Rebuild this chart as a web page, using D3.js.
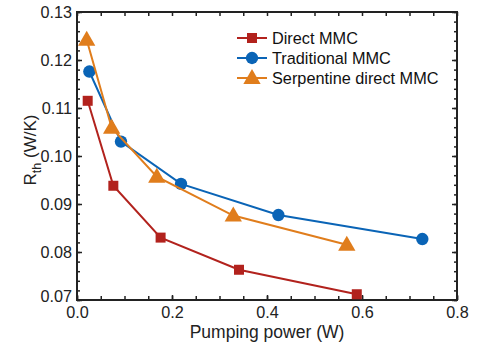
<!DOCTYPE html>
<html><head><meta charset="utf-8">
<script src="https://cdn.jsdelivr.net/npm/d3@7"></script>
<style>body{margin:0;background:#fff}svg{display:block}text{font-family:"Liberation Sans",Arial,sans-serif}</style>
</head><body><svg id="c" width="489" height="350"></svg>
<script>
const seriesNames = ["Direct MMC", "Traditional MMC", "Serpentine direct MMC"];
const directX = [0.0225, 0.0765, 0.176, 0.341, 0.589];
const directY = [0.1115, 0.0938, 0.0830, 0.0763, 0.0712];
const tradX = [0.026, 0.0926, 0.219, 0.424, 0.727];
const tradY = [0.1176, 0.1030, 0.0942, 0.0877, 0.0827];
const serpX = [0.0204, 0.073, 0.168, 0.329, 0.568];
const serpY = [0.1242, 0.1059, 0.0957, 0.0876, 0.0815];
const xTickLabels = [0.0, 0.2, 0.4, 0.6, 0.8];
const yTickLabels = [0.07, 0.08, 0.09, 0.10, 0.11, 0.12, 0.13];
const colors = ["#B2221D", "#0A64B6", "#E07D1C"];
const symbols = [d3.symbolSquare, d3.symbolCircle, d3.symbolTriangle];
const symSizes = [100, 120, 130];

const svg = d3.select("#c");
const L = 77, R = 457, T = 12, B = 300;
const x = d3.scaleLinear().domain([0, 0.8]).range([L, R]);
const y = d3.scaleLinear().domain([0.07, 0.13]).range([B, T]);
const axisColor = "#222";

const g = svg.append("g");
function addAxis(axisGen, transform) {
  const a = g.append("g").attr("transform", transform).call(axisGen);
  a.select(".domain").remove();
  a.selectAll("line").attr("stroke", axisColor).attr("stroke-width", 1.5);
  a.selectAll("text").attr("fill", "#222").style("font-size", "16.2px");
  return a;
}
const xMinor = d3.range(0, 0.8001, 0.05);
const yMinor = d3.range(0.07, 0.13001, 0.002);
addAxis(d3.axisBottom(x).tickValues(xMinor).tickSize(-4).tickFormat(""), `translate(0,${B})`);
addAxis(d3.axisTop(x).tickValues(xMinor).tickSize(-4).tickFormat(""), `translate(0,${T})`);
addAxis(d3.axisLeft(y).tickValues(yMinor).tickSize(-3).tickFormat(""), `translate(${L},0)`);
addAxis(d3.axisRight(y).tickValues(yMinor).tickSize(-3).tickFormat(""), `translate(${R},0)`);
const ya = addAxis(d3.axisLeft(y).tickValues(yTickLabels).tickSize(-5).tickPadding(5).tickFormat(d3.format(".2f")), `translate(${L},0)`);
ya.selectAll("text").filter(d => d === yTickLabels[0]).attr("dy", "0.1em");
addAxis(d3.axisRight(y).tickValues(yTickLabels).tickSize(-5).tickFormat(""), `translate(${R},0)`);
addAxis(d3.axisBottom(x).tickValues(xTickLabels).tickSize(-5).tickPadding(6).tickFormat(d3.format(".1f")), `translate(0,${B})`);

svg.append("rect").attr("x", L).attr("y", T).attr("width", R - L).attr("height", B - T)
  .attr("fill", "none").attr("stroke", axisColor).attr("stroke-width", 2);

const allX = [directX, tradX, serpX], allY = [directY, tradY, serpY];
const line = d3.line().x(d => x(d[0])).y(d => y(d[1]));
seriesNames.forEach((name, i) => {
  const pts = allX[i].map((v, j) => [v, allY[i][j]]);
  svg.append("path").datum(pts).attr("d", line).attr("fill", "none")
    .attr("stroke", colors[i]).attr("stroke-width", 2);
  svg.selectAll(null).data(pts).enter().append("path")
    .attr("d", d3.symbol().type(symbols[i]).size(symSizes[i]))
    .attr("transform", d => `translate(${x(d[0])},${y(d[1]) + (i === 2 ? 1 : 0)})`)
    .attr("fill", colors[i]);
});

const lg = svg.append("g").attr("transform", "translate(237,38)");
seriesNames.forEach((name, i) => {
  const r = lg.append("g").attr("transform", `translate(0,${i * 20})`);
  r.append("line").attr("x1", 0).attr("x2", 30).attr("stroke", colors[i]).attr("stroke-width", 2);
  r.append("path").attr("d", d3.symbol().type(symbols[i]).size(symSizes[i]))
    .attr("transform", `translate(15,${i === 2 ? 1 : 0})`).attr("fill", colors[i]);
  r.append("text").attr("x", 35).attr("y", 6).style("font-size", "16.3px").attr("fill", "#111").text(name);
});

svg.append("text").attr("x", 267).attr("y", 338).attr("text-anchor", "middle")
  .style("font-size", "17.5px").attr("fill", "#222").text("Pumping power (W)");
const yl = svg.append("text").attr("transform", `translate(36,150) rotate(-90)`)
  .attr("text-anchor", "middle").style("font-size", "17px").attr("fill", "#222");
yl.append("tspan").text("R");
yl.append("tspan").attr("dy", 4.5).style("font-size", "12.5px").text("th");
yl.append("tspan").attr("dy", -4.5).text(" (W/K)");
</script></body></html>
